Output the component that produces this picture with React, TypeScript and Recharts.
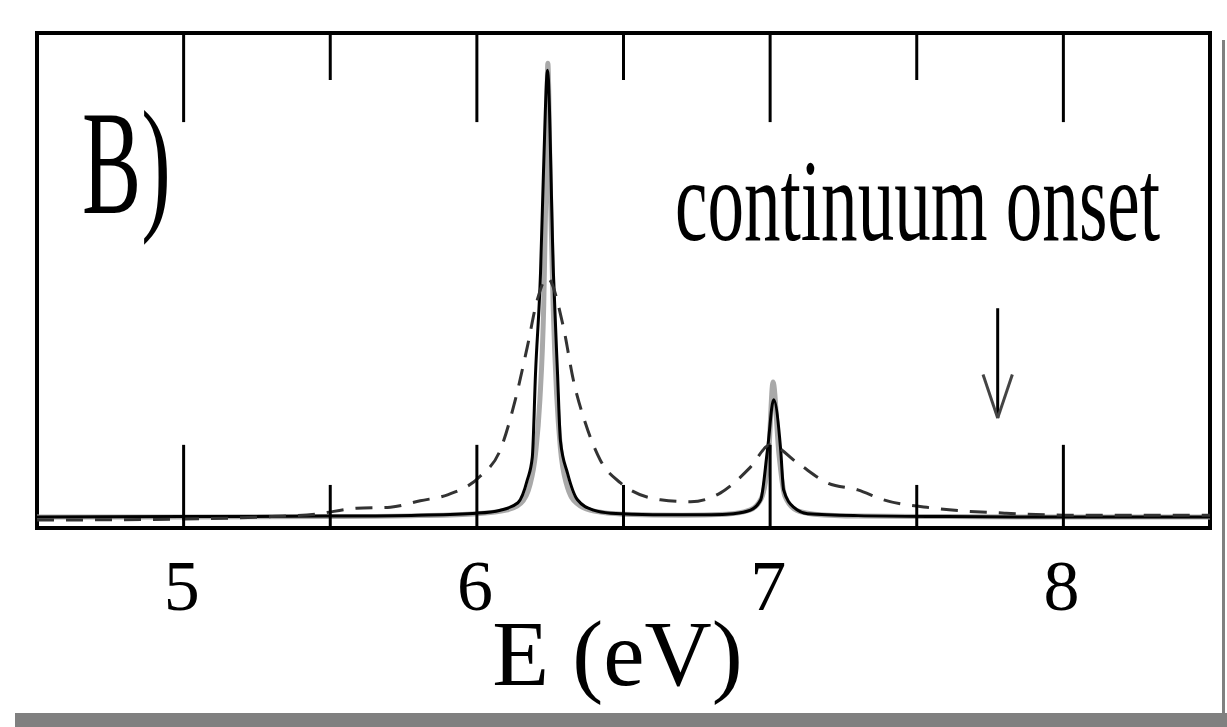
import { LineChart, Line, XAxis, YAxis, ReferenceLine, ReferenceArea, Label } from 'recharts';

// energies (eV) and intensities (arb. units, 0..100 of the frame height)
const energySolid = [4.5, 5.0, 5.5, 5.8, 6.0, 6.08, 6.14, 6.172, 6.189, 6.2, 6.217, 6.227, 6.241, 6.261, 6.275, 6.285, 6.309, 6.343, 6.398, 6.456, 6.6, 6.8, 6.875, 6.933, 6.968, 6.991, 7.012, 7.036, 7.046, 7.08, 7.128, 7.3, 7.6, 8.0, 8.5];
const valueSolid = [2.2, 2.3, 2.4, 2.6, 3.0, 3.6, 5.1, 9.7, 14.3, 31.3, 51.5, 71.7, 92.5, 51.5, 31.3, 17.6, 11.1, 5.7, 3.6, 3.0, 2.7, 2.7, 2.9, 3.6, 5.7, 15.8, 25.9, 15.8, 7.7, 4.2, 2.9, 2.5, 2.3, 2.2, 2.2];

const energyGrey = [4.5, 5.0, 5.5, 5.8, 6.0, 6.1, 6.15, 6.18, 6.2, 6.215, 6.228, 6.236, 6.242, 6.25, 6.26, 6.272, 6.285, 6.305, 6.34, 6.4, 6.5, 6.7, 6.85, 6.93, 6.97, 6.995, 7.01, 7.03, 7.05, 7.09, 7.15, 7.3, 7.6, 8.0, 8.5];
const valueGrey = [2.2, 2.2, 2.3, 2.5, 2.9, 3.6, 5.0, 8.5, 15, 26, 45, 70, 93.9, 70, 45, 27, 16, 9, 5, 3.4, 2.8, 2.6, 2.8, 3.6, 6, 15, 29.5, 15, 6.5, 3.6, 2.8, 2.4, 2.3, 2.2, 2.2];

const energyDashed = [4.5, 5.0, 5.3, 5.45, 5.59, 5.705, 5.807, 5.9, 6.012, 6.08, 6.131, 6.172, 6.206, 6.24, 6.295, 6.329, 6.37, 6.421, 6.49, 6.626, 6.729, 6.831, 6.933, 7.0, 7.094, 7.196, 7.299, 7.387, 7.558, 7.8, 8.0, 8.5];
const valueDashed = [1.6, 1.8, 2.3, 2.8, 4.0, 4.2, 5.5, 6.7, 10.5, 15.8, 25.9, 36.6, 46.1, 50.5, 40.6, 29.9, 21.2, 13.7, 9.1, 5.7, 5.3, 7.1, 12.3, 16.8, 13.1, 9.1, 7.7, 5.7, 4.0, 3.0, 2.6, 2.6];

const majorTicks = [5, 6, 7, 8];
const minorTicks = [5.5, 6.5, 7.5];
const onsetEnergy = 7.776;

const zip = (es: number[], vs: number[]) => es.map((e, i) => ({ e, v: vs[i] }));
const solidData = zip(energySolid, valueSolid);
const greyData = zip(energyGrey, valueGrey);
const dashedData = zip(energyDashed, valueDashed);

const serif = '"Liberation Serif", "DejaVu Serif", serif';

const TickLabel = (props: any) => (
  <text x={props.x - 2} y={props.y + 74} textAnchor="middle" fontSize={72} fontFamily={serif} fill="#000">
    {props.payload.value}
  </text>
);

const AxisTitle = (props: any) => {
  const vb = props.viewBox;
  return (
    <text x={vb.x + vb.width / 2 - 6} y={685} textAnchor="middle" fontSize={93} fontFamily={serif} fill="#000">
      E (eV)
    </text>
  );
};

export default function App() {
  const tickStroke = { stroke: '#000', strokeWidth: 3 };
  return (
    <div style={{ position: 'absolute', left: 0, top: 0, width: 1227, height: 727, background: '#fff', overflow: 'hidden' }}>
      <LineChart width={1227} height={727} data={solidData} margin={{ top: 33, left: 37, right: 17, bottom: 99 }}>
        <XAxis
          dataKey="e"
          type="number"
          domain={[4.5, 8.5]}
          ticks={majorTicks}
          allowDataOverflow
          axisLine={false}
          tickLine={false}
          height={100}
          tick={<TickLabel />}
        >
          <Label content={<AxisTitle />} />
        </XAxis>
        <YAxis type="number" domain={[0, 100]} hide allowDataOverflow />

        <Line data={greyData} dataKey="v" type="monotone" stroke="#a9a9a9" strokeWidth={5} dot={false} isAnimationActive={false} />
        <Line data={solidData} dataKey="v" type="monotone" stroke="#000" strokeWidth={3} dot={false} isAnimationActive={false} />
        <Line data={dashedData} dataKey="v" type="monotone" stroke="#333" strokeWidth={3} strokeDasharray="17 12" dot={false} isAnimationActive={false} />

        {/* inward ticks, top and bottom */}
        {majorTicks.map((t) => (
          <ReferenceLine key={'tb' + t} segment={[{ x: t, y: 0 }, { x: t, y: 16.8 }]} {...tickStroke} />
        ))}
        {minorTicks.map((t) => (
          <ReferenceLine key={'mb' + t} segment={[{ x: t, y: 0 }, { x: t, y: 8.7 }]} {...tickStroke} />
        ))}
        {majorTicks.map((t) => (
          <ReferenceLine key={'tt' + t} segment={[{ x: t, y: 100 }, { x: t, y: 82 }]} {...tickStroke} />
        ))}
        {minorTicks.map((t) => (
          <ReferenceLine key={'mt' + t} segment={[{ x: t, y: 100 }, { x: t, y: 90.5 }]} {...tickStroke} />
        ))}

        {/* continuum onset arrow */}
        <ReferenceLine segment={[{ x: onsetEnergy, y: 44.4 }, { x: onsetEnergy, y: 22.2 }]} stroke="#000" strokeWidth={3} />
        <ReferenceLine segment={[{ x: onsetEnergy - 0.05, y: 31 }, { x: onsetEnergy, y: 22.2 }]} stroke="#444" strokeWidth={3} />
        <ReferenceLine segment={[{ x: onsetEnergy + 0.05, y: 31 }, { x: onsetEnergy, y: 22.2 }]} stroke="#444" strokeWidth={3} />

        {/* frame */}
        <ReferenceArea x1={4.5} x2={8.5} y1={0} y2={100} fill="none" stroke="#000" strokeWidth={4} ifOverflow="visible" />

        <text transform="translate(82,213) scale(0.6,1)" fontSize={148} fontFamily={serif} fill="#000">B)</text>
        <text transform="translate(675,240) scale(0.63,1)" fontSize={116} fontFamily={serif} fill="#000">continuum onset</text>
      </LineChart>
      <div style={{ position: 'absolute', left: 1222, top: 40, width: 3, height: 687, background: '#808080' }} />
      <div style={{ position: 'absolute', left: 15, top: 713, width: 1212, height: 14, background: '#808080' }} />
    </div>
  );
}
